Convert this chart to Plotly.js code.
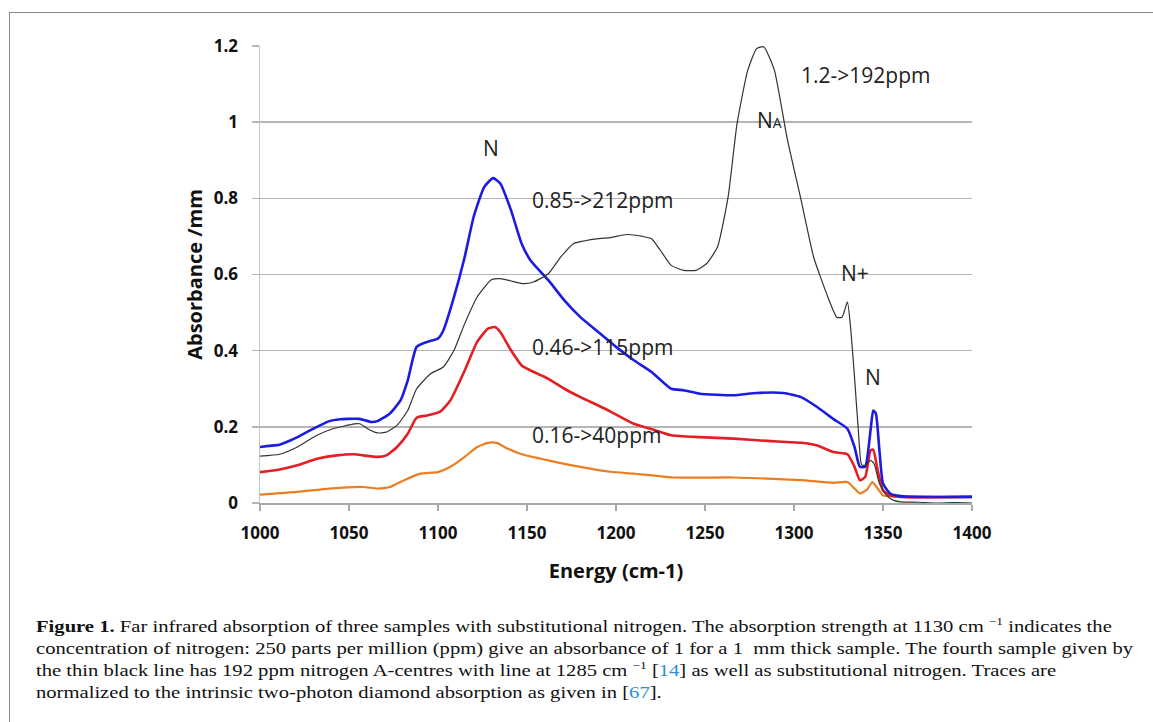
<!DOCTYPE html>
<html>
<head>
<meta charset="utf-8">
<script src="https://cdn.plot.ly/plotly-3.0.1.min.js"></script>
<style>
  html, body { margin:0; padding:0; background:#fff; overflow:hidden; }
  #wrap { position:relative; width:1153px; height:722px; overflow:hidden; }
  #chart { position:absolute; left:0; top:0; width:1153px; height:722px; }
  #frame { position:absolute; left:9px; top:12px; width:2000px; height:2000px; border:1.5px solid #8a8a8a; pointer-events:none; }
  .cap { position:absolute; left:36px; font-family:"Liberation Serif", "Times New Roman", serif; font-size:17px; line-height:22px; color:#111; white-space:nowrap; transform-origin:0 50%; }
  .cap sup { font-size:11px; vertical-align:0; position:relative; top:-7px; }
  .lnk { color:#2b8fd0; }
</style>
</head>
<body>
<div id="wrap">
  <div id="chart"></div>
  <div id="frame"></div>
  <div class="cap" id="c1" style="top:616px"><b>Figure 1.</b> Far infrared absorption of three samples with substitutional nitrogen. The absorption strength at 1130 cm <sup>−1</sup> indicates the</div>
  <div class="cap" id="c2" style="top:638px">concentration of nitrogen: 250 parts per million (ppm) give an absorbance of 1 for a 1&nbsp; mm thick sample. The fourth sample given by</div>
  <div class="cap" id="c3" style="top:660px">the thin black line has 192 ppm nitrogen A-centres with line at 1285 cm <sup>−1</sup> [<span class="lnk">14</span>] as well as substitutional nitrogen. Traces are</div>
  <div class="cap" id="c4" style="top:682px">normalized to the intrinsic two-photon diamond absorption as given in [<span class="lnk">67</span>].</div>
</div>
<script>
// ---- data ----
const blueX = [1000,1005,1011,1016,1021,1027,1032,1039,1045,1049,1056,1062,1066,1073,1079,1083,1088,1094,1100,1103,1109,1115,1120,1126,1131,1135,1141,1147,1152,1162,1171,1180,1190,1200,1210,1220,1231,1238,1247,1266,1279,1294,1304,1313,1322,1330,1334,1337,1340,1343,1344.5,1346,1348,1350,1354,1360,1370,1400];
const blueY = [0.147,0.150,0.153,0.162,0.173,0.188,0.200,0.215,0.220,0.221,0.221,0.213,0.215,0.235,0.270,0.322,0.410,0.423,0.432,0.453,0.541,0.646,0.751,0.830,0.853,0.839,0.769,0.681,0.637,0.585,0.532,0.488,0.449,0.410,0.375,0.344,0.300,0.296,0.287,0.283,0.289,0.289,0.278,0.252,0.221,0.195,0.147,0.095,0.095,0.191,0.243,0.235,0.138,0.051,0.025,0.018,0.016,0.016];

const redX = [1000,1011,1021,1032,1043,1053,1058,1066,1071,1077,1083,1088,1094,1101,1107,1115,1122,1128,1132,1135,1141,1147,1152,1162,1171,1180,1190,1197,1210,1222,1231,1247,1266,1285,1304,1313,1322,1330,1334,1337,1340,1343,1344.5,1347,1350,1354,1360,1400];
const redY = [0.081,0.088,0.099,0.116,0.125,0.128,0.125,0.121,0.125,0.147,0.182,0.224,0.230,0.239,0.270,0.348,0.423,0.458,0.462,0.449,0.401,0.361,0.348,0.326,0.300,0.278,0.256,0.240,0.208,0.191,0.178,0.173,0.169,0.163,0.158,0.151,0.134,0.128,0.095,0.060,0.068,0.138,0.140,0.086,0.033,0.020,0.016,0.016];

const orangeX = [1000,1021,1039,1058,1066,1073,1081,1090,1100,1107,1115,1122,1128,1133,1139,1147,1162,1180,1197,1210,1232,1266,1285,1304,1322,1330,1334,1337,1341,1344,1347,1350,1360,1400];
const orangeY = [0.022,0.029,0.038,0.042,0.038,0.042,0.060,0.077,0.081,0.095,0.121,0.147,0.158,0.158,0.143,0.128,0.112,0.095,0.082,0.077,0.067,0.067,0.064,0.060,0.053,0.055,0.038,0.025,0.035,0.055,0.038,0.020,0.016,0.016];

const blackX = [1000,1011,1021,1032,1041,1053,1056,1062,1066,1071,1077,1083,1088,1096,1103,1109,1115,1122,1130,1135,1141,1148,1154,1162,1169,1176,1182,1190,1197,1206,1215,1220,1225,1231,1238,1245,1251,1257,1263,1268,1274,1279,1283,1289,1296,1304,1311,1319,1324,1327,1330,1332,1334,1336,1338,1340,1343,1345,1348,1352,1356,1360,1370,1380,1390,1400];
const blackY = [0.123,0.128,0.147,0.178,0.195,0.208,0.208,0.191,0.184,0.186,0.204,0.243,0.300,0.340,0.357,0.401,0.471,0.541,0.586,0.589,0.583,0.576,0.581,0.602,0.646,0.681,0.688,0.694,0.697,0.705,0.700,0.694,0.663,0.624,0.611,0.611,0.629,0.672,0.804,0.996,1.136,1.193,1.198,1.136,0.961,0.795,0.646,0.541,0.488,0.488,0.528,0.450,0.330,0.200,0.100,0.099,0.112,0.103,0.051,0.020,0.007,0.003,0.002,0.000,0.001,0.000];

const yTicks = [0, 0.2, 0.4, 0.6, 0.8, 1, 1.2];
const yTickText = ['0','0.2','0.4','0.6','0.8','1','1.2'];
const xTicks = [1000,1050,1100,1150,1200,1250,1300,1350,1400];

const labels = [
  {x:1130,   y:0.932, text:'N', anchor:'center'},
  {x:1286.5, y:1.005, text:'N<span style="font-size:14px">A</span>', anchor:'center'},
  {x:1303,   y:1.124, text:'1.2->192ppm', anchor:'left'},
  {x:1151.5, y:0.796, text:'0.85->212ppm', anchor:'left'},
  {x:1151.5, y:0.410, text:'0.46->115ppm', anchor:'left'},
  {x:1151.5, y:0.179, text:'0.16->40ppm', anchor:'left'},
  {x:1334.3, y:0.604, text:'N+', anchor:'center'},
  {x:1344.4, y:0.331, text:'N', anchor:'center'}
];

const line = (w, c) => ({width:w, color:c, shape:'spline', smoothing:0.5});
const traces = [
  {x:orangeX, y:orangeY, mode:'lines', line:line(2.2,'#ec7d22'), name:'0.16->40ppm'},
  {x:redX, y:redY, mode:'lines', line:line(2.6,'#e31e24'), name:'0.46->115ppm'},
  {x:blueX, y:blueY, mode:'lines', line:line(2.6,'#1c1ce0'), name:'0.85->212ppm'},
  {x:blackX, y:blackY, mode:'lines', line:line(1.2,'#333333'), name:'1.2->192ppm'}
];

const tickFont = {family:'"Open Sans", sans-serif', size:17, color:'#111', weight:'bold'};
const layout = {
  width:1153, height:722,
  margin:{l:260, r:181, t:46, b:219, autoexpand:false},
  paper_bgcolor:'#fff', plot_bgcolor:'#fff',
  showlegend:false,
  xaxis:{
    range:[1000,1400], tickvals:xTicks, ticktext:xTicks.map(String),
    showgrid:false, zeroline:false, showline:true, linecolor:'#a8a8a8', linewidth:1.5,
    ticks:'outside', ticklen:6, tickcolor:'#a8a8a8', tickwidth:1.5,
    tickfont:tickFont, ticklabelstandoff:8,
    title:{text:'Energy (cm-1)', font:{family:'"Open Sans", sans-serif', size:20, color:'#111', weight:'bold'}, standoff:21}
  },
  yaxis:{
    range:[0,1.2], tickvals:yTicks, ticktext:yTickText,
    showgrid:true, gridcolor:'#b5b5b5', gridwidth:1.5, zeroline:false,
    showline:true, linecolor:'#c4c4c4', linewidth:1.5,
    ticks:'outside', ticklen:7, tickcolor:'#b5b5b5', tickwidth:1.5,
    tickfont:tickFont, ticklabelstandoff:10,
    title:{text:'Absorbance /mm', font:{family:'"Open Sans", sans-serif', size:20, color:'#111', weight:'bold'}, standoff:6}
  },
  annotations: labels.map(l => ({
    x:l.x, y:l.y, xref:'x', yref:'y', text:l.text, showarrow:false,
    xanchor:l.anchor, yanchor:'middle',
    font:{family:'"Open Sans", sans-serif', size:21, color:'#222'}
  }))
};

Plotly.newPlot('chart', traces, layout, {staticPlot:true, displayModeBar:false});

// fit caption lines to the reference width
const c2 = document.getElementById('c2');
const s = 1097 / c2.getBoundingClientRect().width;
['c1','c2','c3','c4'].forEach(id => {
  document.getElementById(id).style.transform = 'scaleX(' + s + ')';
});
</script>
</body>
</html>
